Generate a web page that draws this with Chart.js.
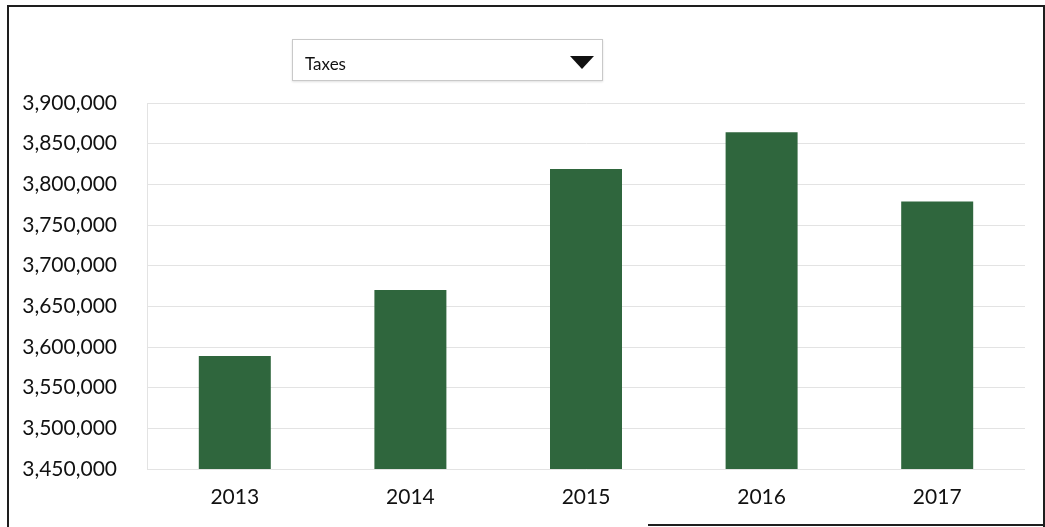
<!DOCTYPE html>
<html>
<head>
<meta charset="utf-8">
<title>Taxes</title>
<script src="https://cdn.jsdelivr.net/npm/chart.js@4.4.1/dist/chart.umd.min.js"></script>
<style>
  html, body { margin: 0; padding: 0; background: #fff; }
  #wrap { position: relative; width: 1045px; height: 527px; overflow: hidden; }
  #taxChart { position: absolute; left: 0; top: 0; }
  /* frame round the chart, bottom edge only on the right part */
  #frame {
    position: absolute; left: 7px; top: 5px; width: 1034px; height: 530px;
    border: 2px solid #1e1e1e; border-bottom: none;
  }
  #frameBottom {
    position: absolute; left: 648px; top: 524px; width: 396px; height: 2px; background: #1e1e1e;
  }
  /* metric picker above the plot */
  #picker {
    position: absolute; left: 292px; top: 39px; width: 311px; height: 42px;
    border: 1px solid #c9c9c9; box-shadow: 0 1px 2px rgba(0,0,0,0.12);
    background: #fff; box-sizing: border-box;
    font-family: Lato, "Noto Sans", sans-serif; font-size: 17px; color: #111;
  }
  #picker span { position: absolute; left: 12px; top: 13px; }
  #picker i {
    position: absolute; left: 277px; top: 16px; width: 0; height: 0;
    border-left: 12px solid transparent; border-right: 12px solid transparent;
    border-top: 13px solid #111;
  }
</style>
</head>
<body>
<div id="wrap">
  <canvas id="taxChart" width="1045" height="527"></canvas>
  <div id="frame"></div>
  <div id="frameBottom"></div>
  <div id="picker"><span>Taxes</span><i></i></div>
</div>
<script>
// Yearly totals for the selected metric
const years = ['2013', '2014', '2015', '2016', '2017'];
const taxes = [3589000, 3670000, 3819000, 3864000, 3779000];

// Value axis range
const yMin = 3450000;
const yMax = 3900000;
const yStep = 50000;

const barColor = '#2f663d';
const gridColor = '#e3e3e3';
const labelFont = { family: 'Lato, "Noto Sans", sans-serif', size: 21 };

const ctx = document.getElementById('taxChart').getContext('2d');

window.taxChart = new Chart(ctx, {
    type: 'bar',
    data: {
        labels: years,
        datasets: [{
            label: 'Taxes',
            data: taxes,
            backgroundColor: barColor,
            borderWidth: 0,
            barPercentage: 0.41,
            categoryPercentage: 1.0
        }]
    },
    options: {
        responsive: false,
        animation: false,
        layout: {
            padding: { left: 0, right: 20, top: 103, bottom: 18 }
        },
        plugins: {
            legend: { display: false },
            tooltip: { enabled: false }
        },
        scales: {
            x: {
                grid: { display: false, drawTicks: false },
                border: { display: false },
                ticks: { color: '#111', font: labelFont, padding: 16 },
                afterFit: (scale) => { scale.height = 40; }
            },
            y: {
                min: yMin,
                max: yMax,
                grid: { color: gridColor, drawTicks: false },
                border: { display: true, color: gridColor },
                ticks: {
                    stepSize: yStep,
                    color: '#111',
                    font: labelFont,
                    padding: 30,
                    callback: (v) => v.toLocaleString('en-US')
                },
                afterFit: (scale) => { scale.width = 147; }
            }
        }
    }
});
</script>
</body>
</html>
